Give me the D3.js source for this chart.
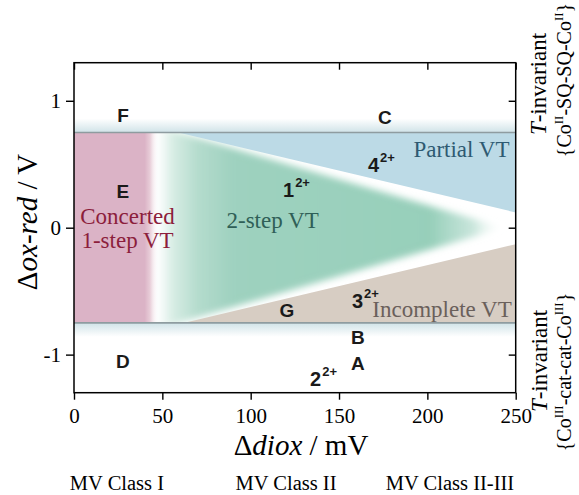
<!DOCTYPE html>
<html>
<head>
<meta charset="utf-8">
<script src="https://cdn.jsdelivr.net/npm/d3@7"></script>
<style>
  body { margin: 0; background: #fff; }
  svg { display: block; }
</style>
</head>
<body>
<svg id="chart" width="579" height="495"></svg>
<script>
// ---- axis ticks ----
const xTicks = [0, 50, 100, 150, 200, 250];
const yTicks = [-1, 0, 1];

// ---- regime boundaries (Δdiox in mV, Δox-red in V) ----
const bandLimits = [0.75, -0.75];          // T-invariant limits
const bandGlow = 0.11;                      // soft halo outside each limit
const concertedEdge = [40, 48];             // concerted region fades out between these
const partialEdge = [[59, 0.75], [250, 0.12]];
const incompleteEdge = [[62, -0.75], [250, -0.13]];
const twoStepTriangle = [[42, 0.82], [244, 0.0], [42, -0.82]];

// ---- compound letters ----
const letterNames = ["A", "B", "C", "D", "E", "F", "G"];
const letterX = [160.7, 160.7, 176, 27.7, 27.7, 27.7, 120.5];
const letterY = [-1.07, -0.865, 0.87, -1.055, 0.29, 0.885, -0.65];

// ---- numbered complexes (numeral + charge) ----
const compoundNames = ["1", "2", "3", "4"];
const compoundX = [118.3, 133.6, 157.3, 166.4];
const compoundY = [0.239, -1.245, -0.629, 0.436];
const compoundCharge = "2+";

// ---- regime names ----
const regimeNames = ["Concerted", "1-step VT", "2-step VT", "Partial VT", "Incomplete VT"];
const regimeX = [30.3, 30.3, 112.4, 219.3, 208.3];
const regimeY = [0.026, -0.163, 0.0, 0.555, -0.707];
const regimeColors = ["#8c1e3c", "#8c1e3c", "#2f5f57", "#2e5a72", "#6a605b"];

// ---- mixed-valence class captions ----
const classNames = ["MV Class I", "MV Class II", "MV Class II-III"];
const classX = [24.3, 120, 212.8];

const svg = d3.select("#chart");
const x = d3.scaleLinear().domain([0, 250]).range([74, 515.7]);
const y = d3.scaleLinear().domain([-1.3, 1.3]).range([392.7, 62.7]);

const serif = "'Liberation Serif','Times New Roman',serif";
const sans = "'Liberation Sans',Arial,sans-serif";

const defs = svg.append("defs");

// concerted region: solid, then fading to white
const pinkGrad = defs.append("linearGradient").attr("id", "pinkGrad")
  .attr("gradientUnits", "userSpaceOnUse")
  .attr("x1", x(0)).attr("x2", x(concertedEdge[1])).attr("y1", 0).attr("y2", 0);
[[0, "#dbb3c6", 1], [concertedEdge[0] / concertedEdge[1], "#dbb3c6", 1],
 [(concertedEdge[0] + 3) / concertedEdge[1], "#e8cdd8", 1], [1, "#ffffff", 0]]
  .forEach(s => pinkGrad.append("stop").attr("offset", s[0]).attr("stop-color", s[1]).attr("stop-opacity", s[2]));

// 2-step region: fades in from the left and out towards the apex
const gx0 = twoStepTriangle[0][0], gx1 = twoStepTriangle[1][0];
const greenGrad = defs.append("linearGradient").attr("id", "greenGrad")
  .attr("gradientUnits", "userSpaceOnUse")
  .attr("x1", x(gx0)).attr("x2", x(gx1)).attr("y1", 0).attr("y2", 0);
[[47, "#c4e3d8", 0], [56, "#b4dccd", 0.55], [70, "#a7d5c4", 0.85], [90, "#9ed1bf", 1],
 [202, "#97cfba", 1], [226, "#a5d5c4", 0.6], [244, "#ffffff", 0]]
  .forEach(s => greenGrad.append("stop").attr("offset", (s[0] - gx0) / (gx1 - gx0))
    .attr("stop-color", s[1]).attr("stop-opacity", s[2]));

const blur = defs.append("filter").attr("id", "soft")
  .attr("x", "-20%").attr("y", "-20%").attr("width", "140%").attr("height", "140%");
blur.append("feGaussianBlur").attr("stdDeviation", 3.5);

defs.append("clipPath").attr("id", "bandClip").append("rect")
  .attr("x", x(0)).attr("y", y(bandLimits[0]))
  .attr("width", x(250) - x(0)).attr("height", y(bandLimits[1]) - y(bandLimits[0]));

// halos just outside the T-invariant limits
const hazeTop = defs.append("linearGradient").attr("id", "hazeTop")
  .attr("x1", 0).attr("x2", 0).attr("y1", 0).attr("y2", 1);
hazeTop.append("stop").attr("offset", 0).attr("stop-color", "#ffffff");
hazeTop.append("stop").attr("offset", 1).attr("stop-color", "#d0e3e8");
const hazeBot = defs.append("linearGradient").attr("id", "hazeBot")
  .attr("x1", 0).attr("x2", 0).attr("y1", 0).attr("y2", 1);
hazeBot.append("stop").attr("offset", 0).attr("stop-color", "#d0e3e8");
hazeBot.append("stop").attr("offset", 1).attr("stop-color", "#ffffff");

const line = d3.line().x(d => x(d[0])).y(d => y(d[1]));

// ---- regions ----
const band = svg.append("g").attr("clip-path", "url(#bandClip)");

band.append("rect")
  .attr("x", x(0)).attr("y", y(bandLimits[0]))
  .attr("width", x(concertedEdge[1]) - x(0))
  .attr("height", y(bandLimits[1]) - y(bandLimits[0]))
  .attr("fill", "url(#pinkGrad)");

band.append("path")
  .attr("d", line(twoStepTriangle) + "Z")
  .attr("fill", "url(#greenGrad)")
  .attr("filter", "url(#soft)");

band.append("path")
  .attr("d", line([partialEdge[0], [250, bandLimits[0]], partialEdge[1]]) + "Z")
  .attr("fill", "#bcdae6");

band.append("path")
  .attr("d", line([incompleteEdge[0], [250, bandLimits[1]], incompleteEdge[1]]) + "Z")
  .attr("fill", "#d7cdc3");

// halos
svg.append("rect")
  .attr("x", x(0)).attr("y", y(bandLimits[0] + bandGlow))
  .attr("width", x(250) - x(0)).attr("height", y(bandLimits[0]) - y(bandLimits[0] + bandGlow))
  .attr("fill", "url(#hazeTop)");
svg.append("rect")
  .attr("x", x(0)).attr("y", y(bandLimits[1]))
  .attr("width", x(250) - x(0)).attr("height", y(bandLimits[1] - bandGlow) - y(bandLimits[1]))
  .attr("fill", "url(#hazeBot)");

// limit lines
svg.selectAll("line.limit").data(bandLimits).join("line")
  .attr("class", "limit")
  .attr("x1", x(0)).attr("x2", x(250))
  .attr("y1", d => y(d)).attr("y2", d => y(d))
  .attr("stroke", "#8e9ca0").attr("stroke-width", 1.6);

// ---- axes ----
function styleAxis(g) {
  g.select(".domain").remove();
  g.selectAll(".tick line").attr("stroke", "#000").attr("stroke-width", 1.4);
  g.selectAll(".tick text").attr("font-family", serif).attr("font-size", 21).attr("fill", "#000");
}
svg.append("g").attr("transform", `translate(0,${y(-1.3)})`)
  .call(d3.axisBottom(x).tickValues(xTicks).tickSize(7).tickPadding(8).tickFormat(d => String(d)))
  .call(styleAxis);
svg.append("g").attr("transform", `translate(0,${y(1.3)})`)
  .call(d3.axisTop(x).tickValues(xTicks).tickSize(-7).tickFormat(""))
  .call(styleAxis);
svg.append("g").attr("transform", `translate(${x(0)},0)`)
  .call(d3.axisLeft(y).tickValues(yTicks).tickSize(8).tickPadding(5).tickFormat(d => String(d)))
  .call(styleAxis);
svg.append("g").attr("transform", `translate(${x(250)},0)`)
  .call(d3.axisRight(y).tickValues(yTicks).tickSize(-7).tickFormat(""))
  .call(styleAxis);

svg.append("rect")
  .attr("x", x(0)).attr("y", y(1.3))
  .attr("width", x(250) - x(0)).attr("height", y(-1.3) - y(1.3))
  .attr("fill", "none").attr("stroke", "#000").attr("stroke-width", 1.5);

// ---- axis titles ----
const xt = svg.append("text")
  .attr("x", 301).attr("y", 455)
  .attr("text-anchor", "middle")
  .attr("font-family", serif).attr("font-size", 29).attr("fill", "#000");
xt.append("tspan").text("Δ");
xt.append("tspan").attr("font-style", "italic").text("diox");
xt.append("tspan").text(" / mV");

const yt = svg.append("text")
  .attr("transform", "translate(37,222) rotate(-90)")
  .attr("text-anchor", "middle")
  .attr("font-family", serif).attr("font-size", 29).attr("fill", "#000");
yt.append("tspan").text("Δ");
yt.append("tspan").attr("font-style", "italic").text("ox-red");
yt.append("tspan").text(" / V");

// ---- right-hand limit captions ----
function sideCaption(cx, cy, parts, size) {
  const t = svg.append("text")
    .attr("transform", `translate(${cx},${cy}) rotate(-90)`)
    .attr("text-anchor", "middle")
    .attr("font-family", serif).attr("font-size", size).attr("fill", "#000");
  parts.forEach(p => {
    const s = t.append("tspan").text(p.t);
    if (p.i) s.attr("font-style", "italic");
    if (p.sup) s.attr("font-size", size * 0.65).attr("dy", -size * 0.42);
    if (p.down) s.attr("dy", size * 0.42);
  });
}
sideCaption(546, 84, [{ t: "T", i: true }, { t: "-invariant" }], 23);
sideCaption(571, 80, [{ t: "{Co" }, { t: "II", sup: true }, { t: "-SQ-SQ-Co", down: true },
  { t: "II", sup: true }, { t: "}", down: true }], 20);
sideCaption(547, 361, [{ t: "T", i: true }, { t: "-invariant" }], 23);
sideCaption(571, 372, [{ t: "{Co" }, { t: "III", sup: true }, { t: "-cat-cat-Co", down: true },
  { t: "III", sup: true }, { t: "}", down: true }], 20);

// ---- class captions ----
svg.selectAll("text.mvclass").data(classNames).join("text")
  .attr("class", "mvclass")
  .attr("x", (d, i) => x(classX[i])).attr("y", 490)
  .attr("text-anchor", "middle")
  .attr("font-family", serif).attr("font-size", 20.5).attr("fill", "#000")
  .text(d => d);

// ---- regime names ----
svg.selectAll("text.regime").data(regimeNames).join("text")
  .attr("class", "regime")
  .attr("x", (d, i) => x(regimeX[i])).attr("y", (d, i) => y(regimeY[i]))
  .attr("text-anchor", "middle")
  .attr("font-family", serif).attr("font-size", 23)
  .attr("fill", (d, i) => regimeColors[i])
  .text(d => d);

// ---- letters ----
svg.selectAll("text.letter").data(letterNames).join("text")
  .attr("class", "letter")
  .attr("x", (d, i) => x(letterX[i])).attr("y", (d, i) => y(letterY[i]))
  .attr("dy", "0.36em")
  .attr("text-anchor", "middle")
  .attr("font-family", sans).attr("font-weight", "bold").attr("font-size", 19).attr("fill", "#1a1a1a")
  .text(d => d);

// ---- numbered complexes ----
const comp = svg.selectAll("text.compound").data(compoundNames).join("text")
  .attr("class", "compound")
  .attr("x", (d, i) => x(compoundX[i])).attr("y", (d, i) => y(compoundY[i]))
  .attr("font-family", sans).attr("font-weight", "bold").attr("fill", "#1a1a1a");
comp.append("tspan").attr("font-size", 20).text(d => d);
comp.append("tspan").attr("font-size", 13).attr("dx", 1).attr("dy", -10).text(compoundCharge);
</script>
</body>
</html>
